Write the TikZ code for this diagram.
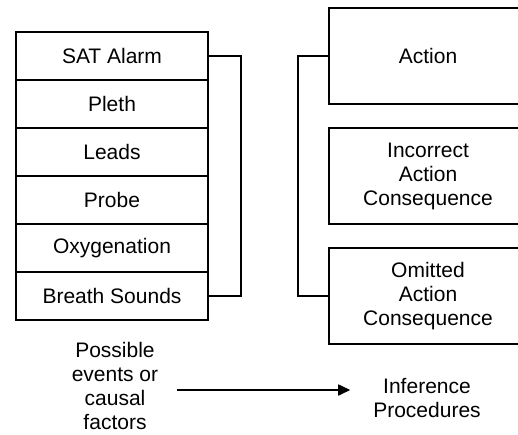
\documentclass[tikz,border=0pt]{standalone}
\usepackage{fontspec}
\setmainfont{Liberation Sans}
\usetikzlibrary{arrows.meta}

\begin{document}
\begin{tikzpicture}[x=0.5pt, y=-0.5pt,
    every node/.style={font=\fontsize{10.5}{12}\selectfont, align=center},
    item/.style={draw, line width=0.8pt, minimum width=96pt, minimum height=24pt, inner sep=0pt},
    outcome/.style={draw, line width=0.8pt, minimum width=99pt, minimum height=48pt, inner sep=0pt},
    bracket/.style={line width=0.8pt},
    flow/.style={line width=0.8pt, -{Triangle[length=6pt, width=5.5pt]}}]
    \useasboundingbox (0,0) rectangle (518,434);
    \clip (0,0) rectangle (518,434);

    \node[item] (sat) at (112,56) {SAT Alarm};
    \node[item] (pleth) at (112,104) {Pleth};
    \node[item] (leads) at (112,152) {Leads};
    \node[item] (probe) at (112,200) {Probe};
    \node[item] (oxy) at (112,248) {Oxygenation};
    \node[item] (breath) at (112,296) {Breath Sounds};

    \node[outcome] (act) at (428,56) {Action};
    \node[outcome] (wrong) at (428,176) {Incorrect\\Action\\Consequence};
    \node[outcome] (omit) at (428,296) {Omitted\\Action\\Consequence};

    \draw[bracket] (sat.east) -- ++(16pt,0) |- (breath.east);
    \draw[bracket] (act.west) -- ++(-15pt,0) |- (omit.west);

    \node (causes) at (115,386) {Possible\\events or\\causal\\factors};
    \node (infer) at (427,398) {Inference\\Procedures};

    \draw[flow, shorten <=6pt, shorten >=8pt] ([yshift=-2pt]causes.east) -- ([yshift=-2pt]causes.east -| infer.west);

\end{tikzpicture}
\end{document}
